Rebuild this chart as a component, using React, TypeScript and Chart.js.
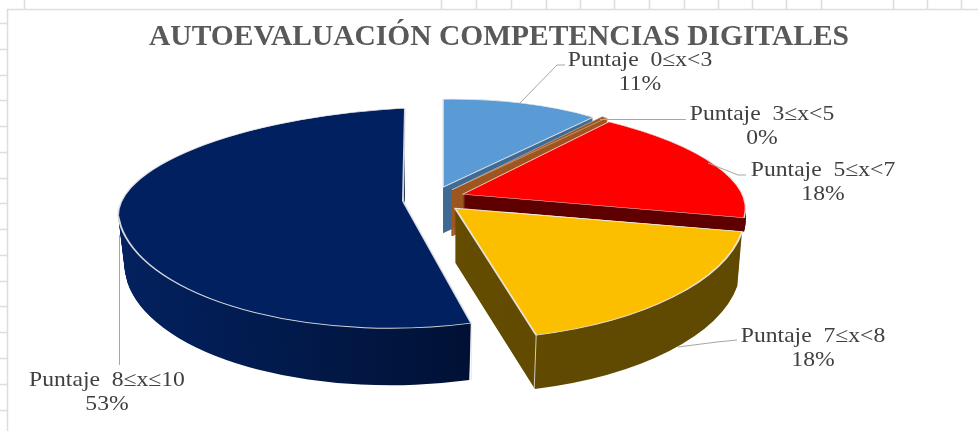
import React, { useEffect, useRef } from "react";
import { Chart, registerables } from "chart.js";

Chart.register(...registerables);

const chartTitle = "AUTOEVALUACIÓN COMPETENCIAS DIGITALES";
const categories = ["Puntaje  0≤x<3", "Puntaje  3≤x<5", "Puntaje  5≤x<7", "Puntaje  7≤x<8", "Puntaje  8≤x≤10"];
const shareValues = [11, 0.4, 18, 18, 53];
const shareLabels = ["11%", "0%", "18%", "18%", "53%"];
const faceColors = ["#5B9BD5", "#A0561F", "#FF0000", "#FCBF00", "#002060"];
const wallStops = [
  ["#3E6A94", "#3E6A94"],
  ["#A0561F", "#A0561F"],
  ["#5E0000", "#5E0000"],
  ["#715500", "#604900"],
  ["#03215E", "#000F30"],
];
const gridTopTicks = [24, 441, 476, 511, 546, 580, 614, 649, 684, 718, 752, 786, 821, 893, 927, 961];
const gridLeftTicks = [23, 49, 75, 100, 126, 152, 178, 203, 229, 255, 281, 306, 332, 358, 384, 410];

// The chart area is centred under the title; the pie sits left of it.
const pieShiftX = -62;

// Oblique projection of each slice: explosion from the pie centre, extrusion depth and taper,
// and the matrix (a b shared, c d for the far and near half of the disc).
const projections = [
  { tx: 6, ty: -8, depth: 46, taper: 0, rim: 2, a: 0.829, b: -0.011, cU: 0, dU: 0.309, cL: 0, dL: 0.309 },
  { tx: 15, ty: -5.5, depth: 46, taper: 0, rim: 0.8, a: 0.829, b: -0.028, cU: 0, dU: 0.309, cL: 0, dL: 0.309 },
  { tx: 26, ty: -1, depth: 14, taper: 0, rim: 1.6, a: 0.9766, b: -0.0055, cU: 0.169, dU: 0.331, cL: 0.169, dL: 0.331 },
  { tx: 18, ty: 13, depth: 54, taper: 0.0003, rim: 2, a: 1.015, b: -0.0416, cU: 0.1096, dU: 0.4595, cL: 0.1096, dL: 0.4595 },
  { tx: -34, ty: 6, depth: 57, taper: 0.00043, rim: 2, a: 1, b: -0.049, cU: -0.007, dU: 0.326, cL: 0.066, dL: 0.443 },
];
const drawOrder = [0, 1, 4, 2, 3];

const labelFontSize = 21;
const labelStretch = 1.125;
const labelLayout = [
  { cx: 640, y: 60, leader: [[520, 103], [557, 65], [565, 65]] },
  { cx: 762, y: 114, leader: [[600, 119.5], [686, 119.5]] },
  { cx: 823, y: 170, leader: [[708, 163], [738, 175], [746, 175]] },
  { cx: 813, y: 336, leader: [[678, 347], [717, 342], [737, 340]] },
  { cx: 107, y: 380, leader: [[119.5, 235], [119.5, 365]] },
];

function plainArcOptions(fill: any, borderColor: any, borderWidth: number) {
  return {
    backgroundColor: fill,
    borderColor,
    borderWidth,
    borderAlign: "center",
    borderJoinStyle: "round",
    borderDash: [],
    borderDashOffset: 0,
    borderRadius: 0,
    circular: true,
    offset: 0,
    spacing: 0,
  };
}

function drawProjected(ctx: CanvasRenderingContext2D, arc: any, p: any, drop: number, options: any) {
  const saved = arc.options;
  arc.options = options;
  const k = 1 - p.taper * drop;
  const halves = p.cU === p.cL && p.dU === p.dL
    ? [{ c: p.cU, d: p.dU, clip: 0 }]
    : [{ c: p.cU, d: p.dU, clip: -1 }, { c: p.cL, d: p.dL, clip: 1 }];
  for (const h of halves) {
    ctx.save();
    ctx.translate(arc.x + pieShiftX + p.tx, arc.y + p.ty + drop);
    ctx.transform(p.a * k, p.b, h.c * k, h.d, 0, 0);
    ctx.translate(-arc.x, -arc.y);
    if (h.clip !== 0) {
      ctx.beginPath();
      if (h.clip < 0) ctx.rect(arc.x - 500, arc.y - 500, 1000, 500.8);
      else ctx.rect(arc.x - 500, arc.y, 1000, 500);
      ctx.clip();
    }
    arc.draw(ctx);
    ctx.restore();
  }
  arc.options = saved;
}

const pie3dPlugin = {
  id: "pie3d",
  beforeDraw(chart: any) {
    const { ctx, width, height } = chart;
    ctx.save();
    ctx.fillStyle = "#FFFFFF";
    ctx.fillRect(0, 0, width, height);
    ctx.strokeStyle = "#DEDEDE";
    ctx.lineWidth = 1.6;
    ctx.beginPath();
    ctx.moveTo(7.5, height);
    ctx.lineTo(7.5, 9.5);
    ctx.lineTo(width, 9.5);
    for (const x of gridTopTicks) {
      ctx.moveTo(x + 0.5, 0);
      ctx.lineTo(x + 0.5, 9);
    }
    for (const y of gridLeftTicks) {
      ctx.moveTo(0, y + 0.5);
      ctx.lineTo(7, y + 0.5);
    }
    ctx.stroke();
    ctx.restore();
  },
  beforeDatasetDraw(chart: any) {
    const ctx: CanvasRenderingContext2D = chart.ctx;
    const arcs = chart.getDatasetMeta(0).data;
    for (const i of drawOrder) {
      const arc = arcs[i];
      const p = projections[i];
      const r = arc.outerRadius;
      const grad = ctx.createLinearGradient(arc.x - r, 0, arc.x + r * 0.3, 0);
      grad.addColorStop(0, wallStops[i][0]);
      grad.addColorStop(1, wallStops[i][1]);
      // the hairline slice needs a stroke so its extrusion stays solid
      const wall = i === 1 ? plainArcOptions(grad, wallStops[i][0], 2.5) : plainArcOptions(grad, "transparent", 0);
      for (let d = p.depth; d >= 1; d--) drawProjected(ctx, arc, p, d, wall);
      if (i === 3 || i === 4) {
        const angle = i === 3 ? arc.endAngle : arc.startAngle;
        const mx = Math.cos(angle) * r;
        const my = Math.sin(angle) * r;
        const c = my < 0 ? p.cU : p.cL;
        const dd = my < 0 ? p.dU : p.dL;
        const tipX = arc.x + pieShiftX + p.tx + p.a * mx + c * my;
        const tipY = arc.y + p.ty + p.b * mx + dd * my;
        ctx.save();
        ctx.strokeStyle = "rgba(225,225,225,0.85)";
        ctx.lineWidth = 1;
        ctx.beginPath();
        ctx.moveTo(tipX, tipY);
        ctx.lineTo(tipX - (i === 3 ? 2 : 0), tipY + p.depth);
        ctx.stroke();
        ctx.restore();
      }
      drawProjected(ctx, arc, p, 0, plainArcOptions(faceColors[i], "rgba(235,235,235,0.9)", p.rim));
    }
    return false;
  },
  afterDatasetsDraw(chart: any) {
    const ctx: CanvasRenderingContext2D = chart.ctx;
    ctx.save();
    ctx.strokeStyle = "#A6A6A6";
    ctx.lineWidth = 1;
    for (const l of labelLayout) {
      ctx.beginPath();
      l.leader.forEach(([x, y], k) => (k ? ctx.lineTo(x, y) : ctx.moveTo(x, y)));
      ctx.stroke();
    }
    ctx.fillStyle = "#404040";
    ctx.font = `${labelFontSize}px "Liberation Serif"`;
    ctx.textAlign = "center";
    ctx.textBaseline = "middle";
    labelLayout.forEach((l, i) => {
      ctx.save();
      ctx.translate(l.cx, l.y);
      ctx.scale(labelStretch, 1);
      ctx.fillText(categories[i], 0, 0);
      ctx.fillText(shareLabels[i], 0, 24);
      ctx.restore();
    });
    ctx.restore();
  },
};

export default function App() {
  const ref = useRef<HTMLCanvasElement>(null);
  useEffect(() => {
    const chart = new Chart(ref.current!, {
      type: "pie",
      data: {
        labels: categories,
        datasets: [{ data: shareValues, backgroundColor: faceColors, borderWidth: 0 }],
      },
      options: {
        responsive: false,
        animation: false,
        radius: 285,
        layout: { padding: { left: 20, right: 0, top: 0, bottom: 96 } },
        plugins: {
          legend: { display: false },
          tooltip: { enabled: false },
          title: {
            display: true,
            text: chartTitle,
            color: "#595959",
            font: { family: '"Liberation Serif"', size: 29.5, weight: "bold" },
            padding: { top: 20, bottom: 0 },
          },
        },
      } as any,
      plugins: [pie3dPlugin as any],
    });
    return () => chart.destroy();
  }, []);
  return (
    <div style={{ position: "fixed", left: 0, top: 0, width: 978, height: 431 }}>
      <canvas ref={ref} width={978} height={431} style={{ display: "block" }} />
    </div>
  );
}
